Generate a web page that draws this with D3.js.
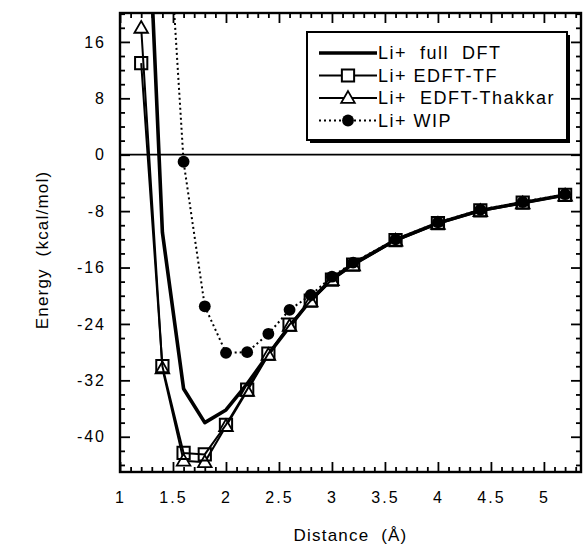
<!DOCTYPE html>
<html>
<head>
<meta charset="utf-8">
<script src="https://cdn.jsdelivr.net/npm/d3@7"></script>
<style>
  body { margin: 0; background: #fff; }
  text { font-family: "Liberation Sans", Arial, Helvetica, sans-serif; fill: #000; }
</style>
</head>
<body>
<div id="chart"></div>
<script>
// Data
const distance = [1.2, 1.4, 1.6, 1.8, 2.0, 2.2, 2.4, 2.6, 2.8, 3.0, 3.2, 3.6, 4.0, 4.4, 4.8, 5.2];
const fullDFT  = [58, -11, -33.2, -38, -36.2, -32.5, -28.3, -24.4, -20.6, -17.6, -15.5, -12.1, -9.7, -7.9, -6.8, -5.7];
const edftTF   = [13, -30, -42.3, -42.5, -38.3, -33.3, -28.2, -24.1, -20.7, -17.7, -15.6, -12.1, -9.7, -7.9, -6.8, -5.7];
const edftThak = [18, -30.3, -43.4, -43.6, -38.5, -33.5, -28.4, -24.3, -20.8, -17.8, -15.7, -12.2, -9.8, -8.0, -6.9, -5.8];
const wipDist  = [1.4, 1.6, 1.8, 2.0, 2.2, 2.4, 2.6, 2.8, 3.0, 3.2, 3.6, 4.0, 4.4, 4.8, 5.2];
const wip      = [47, -1, -21.5, -28.1, -28, -25.4, -22, -19.9, -17.3, -15.3, -12, -9.6, -7.8, -6.7, -5.6];

const xTicks = [1, 1.5, 2, 2.5, 3, 3.5, 4, 4.5, 5];
const xTickLabels = ["1", "1.5", "2", "2.5", "3", "3.5", "4", "4.5", "5"];
const yTicks = [16, 8, 0, -8, -16, -24, -32, -40];
const yTickLabels = ["16", "8", "0", "-8", "-16", "-24", "-32", "-40"];
const legendNames = ["Li+  full  DFT", "Li+ EDFT-TF", "Li+  EDFT-Thakkar", "Li+ WIP"];

// Chart dimensions
const W = 584, H = 550;
const plotLeft = 120, plotRight = 581, plotTop = 13, plotBottom = 472;

const svg = d3.select("#chart").append("svg")
  .attr("width", W)
  .attr("height", H);

const x = d3.scaleLinear().domain([1, 5.35]).range([plotLeft, plotRight]);
const y = d3.scaleLinear().domain([-45, 20.1]).range([plotBottom, plotTop]);

// minor ticks
const xMinor = d3.range(1, 5.35, 0.1).filter(v => Math.abs(v * 2 - Math.round(v * 2)) > 1e-6);
const yMinor = d3.range(-44, 20.1, 2).filter(v => v % 8 !== 0);

function styleAxis(g) {
  g.select(".domain").remove();
  g.selectAll(".tick line").attr("stroke", "#000").attr("stroke-width", 1.8);
  g.selectAll("text")
    .style("font-size", "16px")
    .style("letter-spacing", "2px");
}

// Bottom axis
svg.append("g")
  .attr("transform", `translate(0,${plotBottom})`)
  .call(d3.axisBottom(x).tickValues(xTicks).tickSize(-10).tickPadding(20)
    .tickFormat((d, i) => xTickLabels[i]))
  .call(styleAxis);
svg.append("g")
  .attr("transform", `translate(0,${plotBottom})`)
  .call(d3.axisBottom(x).tickValues(xMinor).tickSize(-5).tickFormat(""))
  .call(styleAxis);

// Top axis
svg.append("g")
  .attr("transform", `translate(0,${plotTop})`)
  .call(d3.axisTop(x).tickValues(xTicks).tickSize(-10).tickFormat(""))
  .call(styleAxis);
svg.append("g")
  .attr("transform", `translate(0,${plotTop})`)
  .call(d3.axisTop(x).tickValues(xMinor).tickSize(-5).tickFormat(""))
  .call(styleAxis);

// Left axis
svg.append("g")
  .attr("transform", `translate(${plotLeft},0)`)
  .call(d3.axisLeft(y).tickValues(yTicks).tickSize(-10).tickPadding(14)
    .tickFormat((d, i) => yTickLabels[i]))
  .call(styleAxis);
svg.append("g")
  .attr("transform", `translate(${plotLeft},0)`)
  .call(d3.axisLeft(y).tickValues(yMinor).tickSize(-5).tickFormat(""))
  .call(styleAxis);

// Right axis
svg.append("g")
  .attr("transform", `translate(${plotRight},0)`)
  .call(d3.axisRight(y).tickValues(yTicks).tickSize(-10).tickFormat(""))
  .call(styleAxis);
svg.append("g")
  .attr("transform", `translate(${plotRight},0)`)
  .call(d3.axisRight(y).tickValues(yMinor).tickSize(-5).tickFormat(""))
  .call(styleAxis);

// Frame
svg.append("rect")
  .attr("x", plotLeft).attr("y", plotTop)
  .attr("width", plotRight - plotLeft).attr("height", plotBottom - plotTop)
  .attr("fill", "none").attr("stroke", "#000").attr("stroke-width", 2.4);

// Zero line
svg.append("line")
  .attr("x1", plotLeft).attr("x2", plotRight)
  .attr("y1", y(0)).attr("y2", y(0))
  .attr("stroke", "#000").attr("stroke-width", 1.8);

// Axis labels
svg.append("text")
  .attr("x", (plotLeft + plotRight) / 2)
  .attr("y", 541)
  .attr("text-anchor", "middle")
  .style("font-size", "17px")
  .style("letter-spacing", "1.2px")
  .style("white-space", "pre")
  .text("Distance  (Å)");

svg.append("text")
  .attr("transform", "rotate(-90)")
  .attr("x", -250)
  .attr("y", 48)
  .attr("text-anchor", "middle")
  .style("font-size", "17px")
  .style("letter-spacing", "1.2px")
  .style("white-space", "pre")
  .text("Energy  (kcal/mol)");

// Plot area
svg.append("clipPath").attr("id", "clip")
  .append("rect")
  .attr("x", plotLeft).attr("y", plotTop)
  .attr("width", plotRight - plotLeft).attr("height", plotBottom - plotTop);

const plot = svg.append("g").attr("clip-path", "url(#clip)");

const line = d3.line().x(d => x(d[0])).y(d => y(d[1]));
const zip = (xs, ys) => xs.map((v, i) => [v, ys[i]]);

const sym = {
  square: d3.symbol().type(d3.symbolSquare).size(150),
  triangle: d3.symbol().type(d3.symbolTriangle).size(80),
  circle: d3.symbol().type(d3.symbolCircle).size(110)
};

// full DFT
plot.append("path")
  .datum(zip(distance, fullDFT))
  .attr("d", line)
  .attr("fill", "none").attr("stroke", "#000").attr("stroke-width", 3.6)
  .attr("stroke-linejoin", "round");

// EDFT-Thakkar
plot.append("path")
  .datum(zip(distance, edftThak))
  .attr("d", line)
  .attr("fill", "none").attr("stroke", "#000").attr("stroke-width", 2);
plot.selectAll(".tri")
  .data(zip(distance, edftThak))
  .enter().append("path")
  .attr("class", "tri")
  .attr("transform", d => `translate(${x(d[0])},${y(d[1]) + 1})`)
  .attr("d", sym.triangle)
  .attr("fill", "#fff").attr("stroke", "#000").attr("stroke-width", 1.8);

// EDFT-TF
plot.append("path")
  .datum(zip(distance, edftTF))
  .attr("d", line)
  .attr("fill", "none").attr("stroke", "#000").attr("stroke-width", 2);
plot.selectAll(".sq")
  .data(zip(distance, edftTF))
  .enter().append("path")
  .attr("class", "sq")
  .attr("transform", d => `translate(${x(d[0])},${y(d[1])})`)
  .attr("d", sym.square)
  .attr("fill", "none").attr("stroke", "#000").attr("stroke-width", 2);

// WIP
plot.append("path")
  .datum(zip(wipDist, wip))
  .attr("d", line)
  .attr("fill", "none").attr("stroke", "#000").attr("stroke-width", 2)
  .attr("stroke-dasharray", "2,3");
plot.selectAll(".dot")
  .data(zip(wipDist, wip))
  .enter().append("path")
  .attr("class", "dot")
  .attr("transform", d => `translate(${x(d[0])},${y(d[1])})`)
  .attr("d", sym.circle)
  .attr("fill", "#000");

// Legend
const lg = svg.append("g").attr("transform", "translate(307,32)");
lg.append("rect")
  .attr("x", 3).attr("y", 3).attr("width", 260).attr("height", 108)
  .attr("fill", "#000");
lg.append("rect")
  .attr("x", 0).attr("y", 0).attr("width", 260).attr("height", 108)
  .attr("fill", "#fff").attr("stroke", "#000").attr("stroke-width", 2);

const rows = legendNames.map((name, i) => ({ name, i }));
const lgRow = lg.selectAll(".row")
  .data(rows)
  .enter().append("g")
  .attr("transform", d => `translate(0,${21 + d.i * 22.5})`);

lgRow.append("line")
  .attr("x1", 12).attr("x2", 70)
  .attr("stroke", "#000")
  .attr("stroke-width", d => d.i === 0 ? 3.6 : 2)
  .attr("stroke-dasharray", d => d.i === 3 ? "2,3" : null);

lgRow.filter(d => d.i === 1).append("path")
  .attr("transform", "translate(41,0)")
  .attr("d", sym.square)
  .attr("fill", "#fff").attr("stroke", "#000").attr("stroke-width", 2);
lgRow.filter(d => d.i === 2).append("path")
  .attr("transform", "translate(41,1)")
  .attr("d", sym.triangle)
  .attr("fill", "#fff").attr("stroke", "#000").attr("stroke-width", 1.8);
lgRow.filter(d => d.i === 3).append("path")
  .attr("transform", "translate(41,0)")
  .attr("d", sym.circle)
  .attr("fill", "#000");

lgRow.append("text")
  .attr("x", 71)
  .attr("dy", "0.36em")
  .style("font-size", "18px")
  .style("letter-spacing", "1.5px")
  .style("white-space", "pre")
  .text(d => d.name);
</script>
</body>
</html>
